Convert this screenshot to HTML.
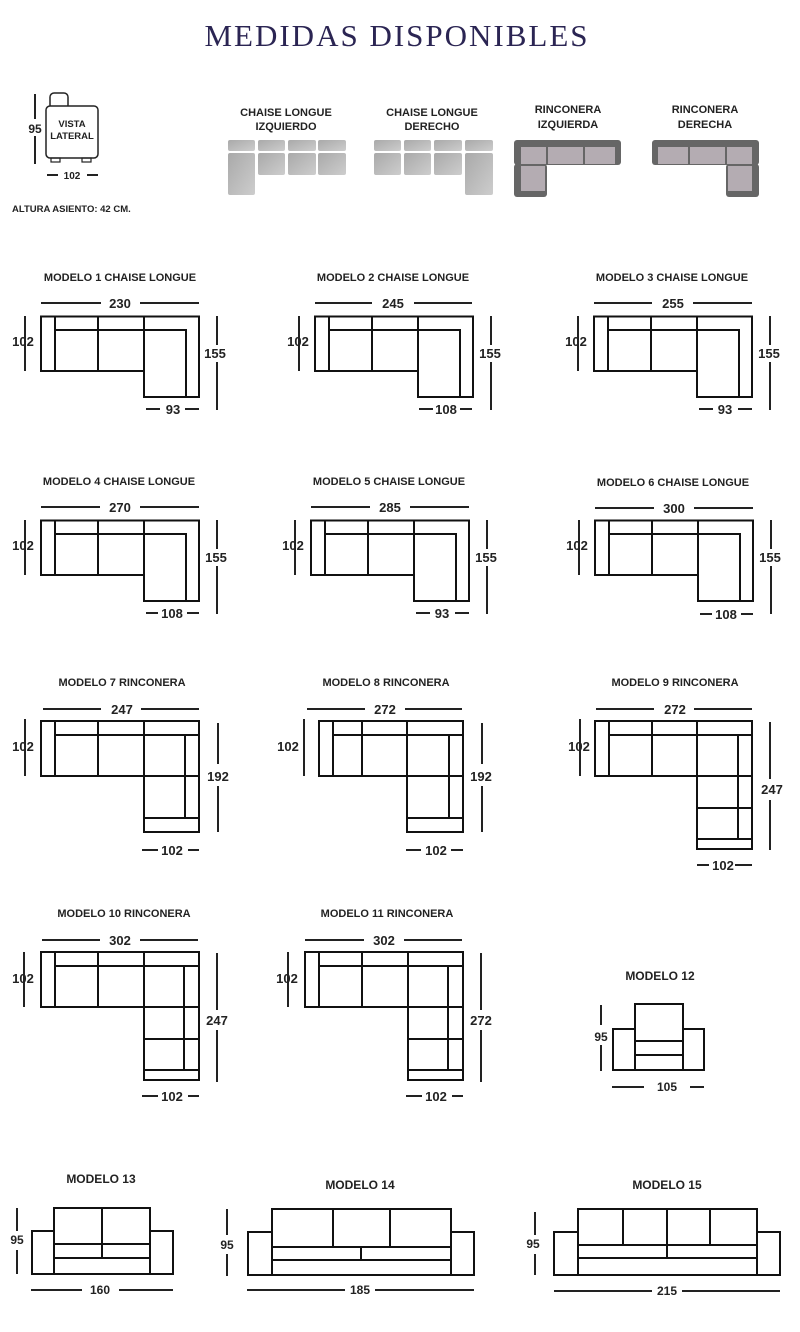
<!DOCTYPE html>
<html><head><meta charset="utf-8"><style>
body{margin:0;background:#fff;}
svg{display:block;}
.t{font-family:"Liberation Sans",Arial,sans-serif;font-weight:bold;fill:#222;}
.d{font-family:"Liberation Sans",Arial,sans-serif;font-weight:bold;fill:#222;font-size:13px;}
.c{font-family:"Liberation Sans",Arial,sans-serif;font-weight:bold;fill:#222;font-size:12px;}
.s{fill:none;stroke:#111;stroke-width:2;}
.m{stroke:#222;stroke-width:2;}
</style></head><body>
<svg width="800" height="1332" viewBox="0 0 800 1332" xmlns="http://www.w3.org/2000/svg">
<defs>
<linearGradient id="g" x1="0" y1="0" x2="1" y2="1"><stop offset="0" stop-color="#a9a9a9"/><stop offset="1" stop-color="#cdcdcd"/></linearGradient>
<g id="ch">
<path class="s" d="M41 316.5H199V397H144V371H41Z"/>
<path class="s" d="M55 316.5V371M55 330H186V397M98 316.5V371M144 316.5V371"/>
</g>
<g id="rin">
<path class="s" d="M41 721H199V832H144V776H41Z"/>
<path class="s" d="M55 721V776M55 735H199M98 721V776M144 721V776M185 735V818M144 776H199M144 818H199"/>
</g>
<g id="rin2">
<path class="s" d="M41 952H199V1080H144V1007H41Z"/>
<path class="s" d="M55 952V1007M55 966H199M98 952V1007M144 952V1007M184 966V1070M144 1007H199M144 1039H199M144 1070H199"/>
</g>
</defs>

<text x="397" y="46" text-anchor="middle" font-family="Liberation Serif,serif" font-size="31" letter-spacing="2" fill="#2b2553">MEDIDAS DISPONIBLES</text>

<!-- side view -->
<rect x="50" y="93" width="18" height="16" rx="4" fill="none" stroke="#222" stroke-width="1.5"/>
<rect x="46" y="106" width="52" height="52" rx="4" fill="#fff" stroke="#222" stroke-width="1.5"/>
<rect x="51" y="158" width="9" height="4" fill="none" stroke="#222" stroke-width="1.2"/>
<rect x="82" y="158" width="9" height="4" fill="none" stroke="#222" stroke-width="1.2"/>
<text class="t" x="72" y="127" font-size="9.5" text-anchor="middle">VISTA</text>
<text class="t" x="72" y="139" font-size="9.5" text-anchor="middle">LATERAL</text>
<path class="m" d="M35 94V119M35 136V164M47 175H58M87 175H98"/>
<text class="t" x="35" y="133" font-size="12" text-anchor="middle">95</text>
<text class="t" x="72" y="179" font-size="10" text-anchor="middle" font-family="Liberation Serif,serif">102</text>
<text class="t" x="12" y="212" font-size="9.5">ALTURA ASIENTO: 42 CM.</text>

<!-- icons -->
<text class="t" x="286" y="116" font-size="11" text-anchor="middle">CHAISE LONGUE</text>
<text class="t" x="286" y="130" font-size="11" text-anchor="middle">IZQUIERDO</text>
<g fill="url(#g)">
<rect x="228" y="140" width="27" height="11" rx="2"/><rect x="258" y="140" width="27" height="11" rx="2"/><rect x="288" y="140" width="28" height="11" rx="2"/><rect x="318" y="140" width="28" height="11" rx="2"/>
<rect x="228" y="153" width="27" height="42" rx="2"/><rect x="258" y="153" width="27" height="22" rx="2"/><rect x="288" y="153" width="28" height="22" rx="2"/><rect x="318" y="153" width="28" height="22" rx="2"/>
<rect x="374" y="140" width="27" height="11" rx="2"/><rect x="404" y="140" width="27" height="11" rx="2"/><rect x="434" y="140" width="28" height="11" rx="2"/><rect x="465" y="140" width="28" height="11" rx="2"/>
<rect x="374" y="153" width="27" height="22" rx="2"/><rect x="404" y="153" width="27" height="22" rx="2"/><rect x="434" y="153" width="28" height="22" rx="2"/><rect x="465" y="153" width="28" height="42" rx="2"/>
</g>
<text class="t" x="432" y="116" font-size="11" text-anchor="middle">CHAISE LONGUE</text>
<text class="t" x="432" y="130" font-size="11" text-anchor="middle">DERECHO</text>
<text class="t" x="568" y="113" font-size="11" text-anchor="middle">RINCONERA</text>
<text class="t" x="568" y="128" font-size="11" text-anchor="middle">IZQUIERDA</text>
<text class="t" x="705" y="113" font-size="11" text-anchor="middle">RINCONERA</text>
<text class="t" x="705" y="128" font-size="11" text-anchor="middle">DERECHA</text>
<g fill="#666">
<rect x="514" y="140" width="107" height="25" rx="3"/><rect x="514" y="164" width="33" height="33" rx="3"/>
<rect x="652" y="140" width="107" height="25" rx="3"/><rect x="726" y="164" width="33" height="33" rx="3"/>
</g>
<g fill="#b4acb2">
<rect x="521" y="147" width="25" height="17"/><rect x="548" y="147" width="35" height="17"/><rect x="585" y="147" width="30" height="17"/><rect x="521" y="166" width="24" height="25"/>
<rect x="658" y="147" width="30" height="17"/><rect x="690" y="147" width="35" height="17"/><rect x="727" y="147" width="25" height="17"/><rect x="728" y="166" width="24" height="25"/>
</g>

<!-- row 1 -->
<text class="t" x="120" y="281" font-size="11" text-anchor="middle">MODELO 1 CHAISE LONGUE</text>
<text class="t" x="393" y="281" font-size="11" text-anchor="middle">MODELO 2 CHAISE LONGUE</text>
<text class="t" x="672" y="281" font-size="11" text-anchor="middle">MODELO 3 CHAISE LONGUE</text>
<use href="#ch"/>
<use href="#ch" x="274"/>
<use href="#ch" x="553"/>
<g>
<path class="m" d="M41 303H101M140 303H199M25 316V371M217 316V345M217 362V410M146 409H160M185 409H199"/>
<text class="d" x="120" y="308" text-anchor="middle">230</text><text class="d" x="23" y="346" text-anchor="middle">102</text><text class="d" x="215" y="358" text-anchor="middle">155</text><text class="d" x="173" y="414" text-anchor="middle">93</text>
<path class="m" d="M315 303H372M414 303H472M299 316V371M491 316V345M491 362V410M419 409H433M460 409H472"/>
<text class="d" x="393" y="308" text-anchor="middle">245</text><text class="d" x="298" y="346" text-anchor="middle">102</text><text class="d" x="490" y="358" text-anchor="middle">155</text><text class="d" x="446" y="414" text-anchor="middle">108</text>
<path class="m" d="M594 303H652M693 303H752M578 316V371M770 316V345M770 362V410M699 409H713M738 409H752"/>
<text class="d" x="673" y="308" text-anchor="middle">255</text><text class="d" x="576" y="346" text-anchor="middle">102</text><text class="d" x="769" y="358" text-anchor="middle">155</text><text class="d" x="725" y="414" text-anchor="middle">93</text>
</g>

<!-- row 2 -->
<text class="t" x="119" y="485" font-size="11" text-anchor="middle">MODELO 4 CHAISE LONGUE</text>
<text class="t" x="389" y="485" font-size="11" text-anchor="middle">MODELO 5 CHAISE LONGUE</text>
<text class="t" x="673" y="486" font-size="11" text-anchor="middle">MODELO 6 CHAISE LONGUE</text>
<use href="#ch" x="0" y="204"/>
<use href="#ch" x="270" y="204"/>
<use href="#ch" x="554" y="204"/>
<path class="m" d="M41 507H100M140 507H199M25 520V575M217 520V549M217 566V614M146 613H158M187 613H199"/>
<text class="d" x="120" y="512" text-anchor="middle">270</text><text class="d" x="23" y="550" text-anchor="middle">102</text><text class="d" x="216" y="562" text-anchor="middle">155</text><text class="d" x="172" y="618" text-anchor="middle">108</text>
<path class="m" d="M311 507H370M410 507H469M295 520V575M487 520V549M487 566V614M416 613H430M455 613H469"/>
<text class="d" x="390" y="512" text-anchor="middle">285</text><text class="d" x="293" y="550" text-anchor="middle">102</text><text class="d" x="486" y="562" text-anchor="middle">155</text><text class="d" x="442" y="618" text-anchor="middle">93</text>
<path class="m" d="M595 508H654M694 508H753M579 520V575M771 520V549M771 566V614M700 614H712M741 614H753"/>
<text class="d" x="674" y="513" text-anchor="middle">300</text><text class="d" x="577" y="550" text-anchor="middle">102</text><text class="d" x="770" y="562" text-anchor="middle">155</text><text class="d" x="726" y="619" text-anchor="middle">108</text>

<!-- row 3 -->
<text class="t" x="122" y="686" font-size="11" text-anchor="middle">MODELO 7 RINCONERA</text>
<text class="t" x="386" y="686" font-size="11" text-anchor="middle">MODELO 8 RINCONERA</text>
<text class="t" x="675" y="686" font-size="11" text-anchor="middle">MODELO 9 RINCONERA</text>
<use href="#rin"/>
<path class="m" d="M43 709H101M141 709H199M25 719V776M218 723V764M218 786V832M142 850H158M188 850H199"/>
<text class="d" x="122" y="714" text-anchor="middle">247</text><text class="d" x="23" y="751" text-anchor="middle">102</text><text class="d" x="218" y="781" text-anchor="middle">192</text><text class="d" x="172" y="855" text-anchor="middle">102</text>
<path class="s" d="M319 721H463V832H407V776H319Z"/>
<path class="s" d="M333 721V776M333 735H463M362 721V776M407 721V776M449 735V818M407 776H463M407 818H463"/>
<path class="m" d="M307 709H365M405 709H462M304 719V776M482 723V764M482 786V832M406 850H421M451 850H463"/>
<text class="d" x="385" y="714" text-anchor="middle">272</text><text class="d" x="288" y="751" text-anchor="middle">102</text><text class="d" x="481" y="781" text-anchor="middle">192</text><text class="d" x="436" y="855" text-anchor="middle">102</text>
<path class="s" d="M595 721H752V849H697V776H595Z"/>
<path class="s" d="M609 721V776M609 735H752M652 721V776M697 721V776M738 735V839M697 776H752M697 808H752M697 839H752"/>
<path class="m" d="M596 709H654M694 709H752M580 719V776M770 722V779M770 800V850M697 865H709M735 865H752"/>
<text class="d" x="675" y="714" text-anchor="middle">272</text><text class="d" x="579" y="751" text-anchor="middle">102</text><text class="d" x="772" y="794" text-anchor="middle">247</text><text class="d" x="723" y="870" text-anchor="middle">102</text>

<!-- row 4 -->
<text class="t" x="124" y="917" font-size="11" text-anchor="middle">MODELO 10 RINCONERA</text>
<text class="t" x="387" y="917" font-size="11" text-anchor="middle">MODELO 11 RINCONERA</text>
<use href="#rin2"/>
<use href="#rin2" x="264"/>
<path class="m" d="M42 940H100M140 940H198M24 952V1007M217 953V1010M217 1030V1082M142 1096H158M188 1096H199"/>
<text class="d" x="120" y="945" text-anchor="middle">302</text><text class="d" x="23" y="983" text-anchor="middle">102</text><text class="d" x="217" y="1025" text-anchor="middle">247</text><text class="d" x="172" y="1101" text-anchor="middle">102</text>
<path class="m" d="M305 940H364M404 940H462M288 952V1007M481 953V1010M481 1030V1082M406 1096H422M452 1096H463"/>
<text class="d" x="384" y="945" text-anchor="middle">302</text><text class="d" x="287" y="983" text-anchor="middle">102</text><text class="d" x="481" y="1025" text-anchor="middle">272</text><text class="d" x="436" y="1101" text-anchor="middle">102</text>

<!-- model 12 -->
<text class="c" x="660" y="980" text-anchor="middle">MODELO 12</text>
<path class="s" d="M635 1004H683V1070H635Z M613 1029H635V1070H613Z M683 1029H704V1070H683Z M635 1041H683M635 1055H683"/>
<path class="m" d="M601 1005V1025M601 1045V1071M612 1087H644M690 1087H704"/>
<text class="c" x="601" y="1041" text-anchor="middle">95</text><text class="c" x="667" y="1091" text-anchor="middle">105</text>

<!-- model 13 -->
<text class="c" x="101" y="1183" text-anchor="middle">MODELO 13</text>
<path class="s" d="M54 1208H150V1274H54Z M32 1231H54V1274H32Z M150 1231H173V1274H150Z M102 1208V1258M54 1244H150M54 1258H150"/>
<path class="m" d="M17 1208V1231M17 1250V1274M31 1290H82M119 1290H173"/>
<text class="c" x="17" y="1244" text-anchor="middle">95</text><text class="c" x="100" y="1294" text-anchor="middle">160</text>

<!-- model 14 -->
<text class="c" x="360" y="1189" text-anchor="middle">MODELO 14</text>
<path class="s" d="M272 1209H451V1275H272Z M248 1232H272V1275H248Z M451 1232H474V1275H451Z M333 1209V1247M390 1209V1247M361 1247V1260M272 1247H451M272 1260H451"/>
<path class="m" d="M227 1209V1235M227 1254V1276M247 1290H345M375 1290H474"/>
<text class="c" x="227" y="1249" text-anchor="middle">95</text><text class="c" x="360" y="1294" text-anchor="middle">185</text>

<!-- model 15 -->
<text class="c" x="667" y="1189" text-anchor="middle">MODELO 15</text>
<path class="s" d="M578 1209H757V1275H578Z M554 1232H578V1275H554Z M757 1232H780V1275H757Z M623 1209V1245M667 1209V1245M710 1209V1245M667 1245V1258M578 1245H757M578 1258H757"/>
<path class="m" d="M535 1212V1235M535 1254V1275M554 1291H652M682 1291H780"/>
<text class="c" x="533" y="1248" text-anchor="middle">95</text><text class="c" x="667" y="1295" text-anchor="middle">215</text>
</svg>
</body></html>
